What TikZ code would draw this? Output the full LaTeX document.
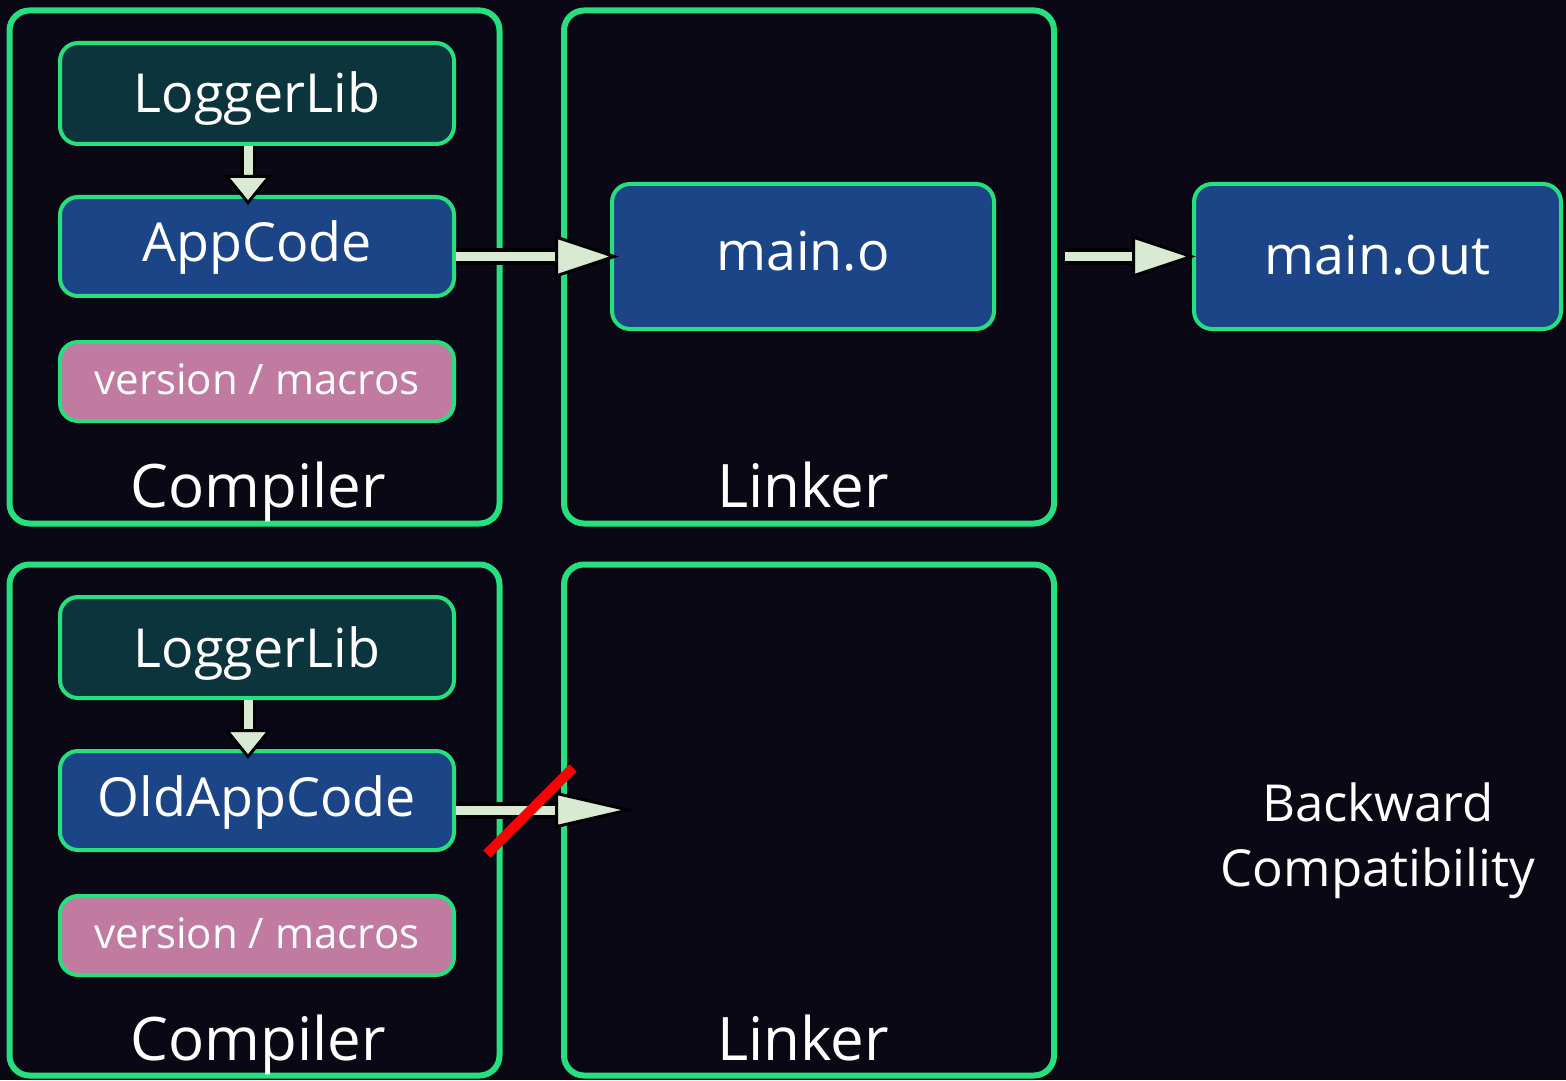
\documentclass[tikz,border=0pt]{standalone}
\usepackage{fontspec}
\setmainfont{Open Sans}
\usetikzlibrary{arrows.meta}
\definecolor{bg}{RGB}{9,8,20}
\definecolor{edge}{RGB}{38,224,128}
\definecolor{libfill}{RGB}{12,52,61}
\definecolor{codefill}{RGB}{28,69,135}
\definecolor{macrofill}{RGB}{194,123,160}
\definecolor{flow}{RGB}{217,234,211}
\definecolor{veto}{RGB}{255,0,0}
\tikzset{
  stage/.style={draw=edge, line width=3pt, rounded corners=10pt, inner sep=0pt,
    minimum width=245pt, minimum height=256.5pt},
  unit/.style={draw=edge, line width=2pt, rounded corners=9pt, inner sep=0pt,
    text=white, font=\fontsize{26.9}{32}\selectfont, text depth=5pt},
  lib/.style={unit, fill=libfill, minimum width=197pt, minimum height=50.5pt, text height=24.5pt},
  code/.style={unit, fill=codefill, minimum width=197pt, minimum height=49.5pt, text height=20.5pt},
  macro/.style={unit, fill=macrofill, minimum width=197pt, minimum height=39.5pt,
    font=\fontsize{21}{25}\selectfont, text height=17.5pt},
  artifact/.style={unit, fill=codefill, minimum height=72.5pt},
  stagename/.style={text=white, font=\fontsize{30}{36}\selectfont, anchor=base},
  flowarrow/.style={draw=flow, line width=4.5pt,
    -{Triangle[length=32pt, width=21pt, color=black, fill=flow, line width=1.5pt]},
    preaction={draw=black, line width=8.5pt, -, shorten >=20pt}},
  longarrow/.style={draw=flow, line width=4.5pt,
    -{Triangle[length=40pt, width=18pt, color=black, fill=flow, line width=1.5pt]},
    preaction={draw=black, line width=8.5pt, -, shorten >=28pt}},
  downarrow/.style={draw=flow, line width=4.5pt,
    -{Triangle[length=15pt, width=24pt, color=black, fill=flow, line width=1.5pt]},
    preaction={draw=black, line width=8pt, -, shorten >=5pt}},
}
\begin{document}
\begin{tikzpicture}[x=0.5pt, y=-0.5pt]
\fill[bg] (0,0) rectangle (1566,1080);
\useasboundingbox (0,0) rectangle (1566,1080);

% build stages
\node[stage] (comp1) at (254.5,267) {};
\node[stage] (link1) at (809,267) {};
\node[stage, minimum height=255.5pt] (comp2) at (254.5,820) {};
\node[stage, minimum height=255.5pt] (link2) at (809,820) {};

\node[stagename] (comp1name) at (258,507) {Compiler};
\node[stagename] (link1name) at (803,507) {Linker};
\node[stagename] (comp2name) at (258,1060) {Compiler};
\node[stagename] (link2name) at (803,1060) {Linker};

% current toolchain
\node[lib] (log1) at (257,93.5) {LoggerLib};
\node[code] (app1) at (257,246.5) {AppCode};
\node[macro] (ver1) at (257,381.5) {version / macros};
\node[artifact, minimum width=191pt, text height=19pt] (maino) at (803,256.5) {main.o};
\node[artifact, minimum width=183.5pt, text height=23.5pt] (mainout) at (1377.5,256.5) {main.out};

% old code path
\node[lib] (log2) at (257,647.5) {LoggerLib};
\node[code] (app2) at (257,800.5) {OldAppCode};
\node[macro] (ver2) at (257,935.5) {version / macros};

\node[text=white, align=center, font=\fontsize{25.5}{32.5}\selectfont] (compat) at (1378,841)
  {Backward\\Compatibility};

% connectors
\draw[downarrow, shorten >=-5pt] ([xshift=-4.5pt]log1.south) -- ([xshift=-4.5pt]app1.north);
\draw[downarrow, shorten >=-5pt] ([xshift=-4.5pt]log2.south) -- ([xshift=-4.5pt]app2.north);
\draw[flowarrow, shorten >=-4.5pt] (app1.east |- maino.west) -- (maino.west);
\draw[flowarrow, shorten <=4pt, shorten >=-2pt] (link1.east |- mainout.west) -- (mainout.west);
\coordinate (blocked) at (625,810);
\draw[longarrow, shorten >=-5pt] (app2.east |- blocked) -- (blocked);
\draw[veto, line width=5pt] (487,854) -- (573,768);
\end{tikzpicture}
\end{document}
